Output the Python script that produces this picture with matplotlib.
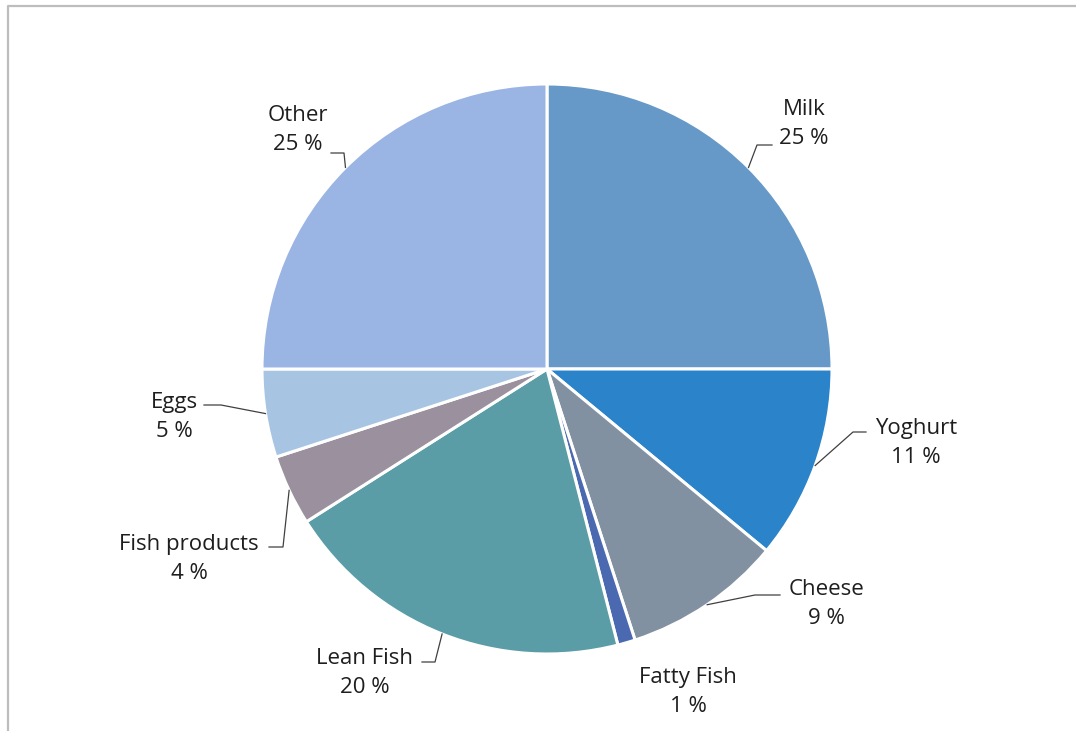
import numpy as np
import matplotlib.pyplot as plt
from matplotlib.lines import Line2D

categories = ['Milk', 'Yoghurt', 'Cheese', 'Fatty Fish', 'Lean Fish',
              'Fish products', 'Eggs', 'Other']
shares = [25, 11, 9, 1, 20, 4, 5, 25]
colors = ['#6699C8', '#2B83C9', '#8291A2', '#4A69B0', '#5A9DA6',
          '#9A909E', '#A7C5E2', '#9AB4E3']

W, H = 1076, 731
cx, cy, r = 547, H - 369, 285

# label block centre and leader knee (pixels, y measured from top)
label_pos = {
    'Milk': (804, 124, (757, 145), (772, 145)),
    'Yoghurt': (916, 443, (853, 432), (866, 432)),
    'Cheese': (826, 604, (755, 595), (780, 595)),
    'Fatty Fish': (688, 692, None, None),
    'Lean Fish': (365, 673, (435, 662), (422, 662)),
    'Fish products': (189, 559, (283, 547), (269, 547)),
    'Eggs': (174, 417, (221, 405), (204, 405)),
    'Other': (298, 130, (344, 153), (331, 153)),
}

plt.rcParams['font.family'] = ['Open Sans', 'DejaVu Sans']

fig = plt.figure(figsize=(W / 100, H / 100), dpi=100)
ax = fig.add_axes([0, 0, 1, 1])

wedges, _ = ax.pie(shares, colors=colors, startangle=90, counterclock=False,
                   center=(cx, cy), radius=r,
                   wedgeprops=dict(edgecolor='white', linewidth=2.2))
ax.set_xlim(0, W)
ax.set_ylim(0, H)
ax.set_aspect('equal')
ax.axis('off')

for w, name, val in zip(wedges, categories, shares):
    tx, ty, knee, end = label_pos[name]
    ax.text(tx, H - ty, f'{name}\n{val} %', ha='center', va='center',
            fontsize=16, color='#1E1E1E', linespacing=1.45)
    if knee is None:
        continue
    mid = np.deg2rad((w.theta1 + w.theta2) / 2)
    sx, sy = cx + r * np.cos(mid), cy + r * np.sin(mid)
    ax.plot([sx, knee[0], end[0]], [sy, H - knee[1], H - end[1]],
            color='#404040', lw=0.9)

# chart area border, cut off at the right and bottom
fig.add_artist(Line2D([8, 8, W + 5], [-5, H - 6, H - 6],
                      transform=None, color='#BDBDBD', lw=1.6))

fig.savefig('out.png', dpi=100)
